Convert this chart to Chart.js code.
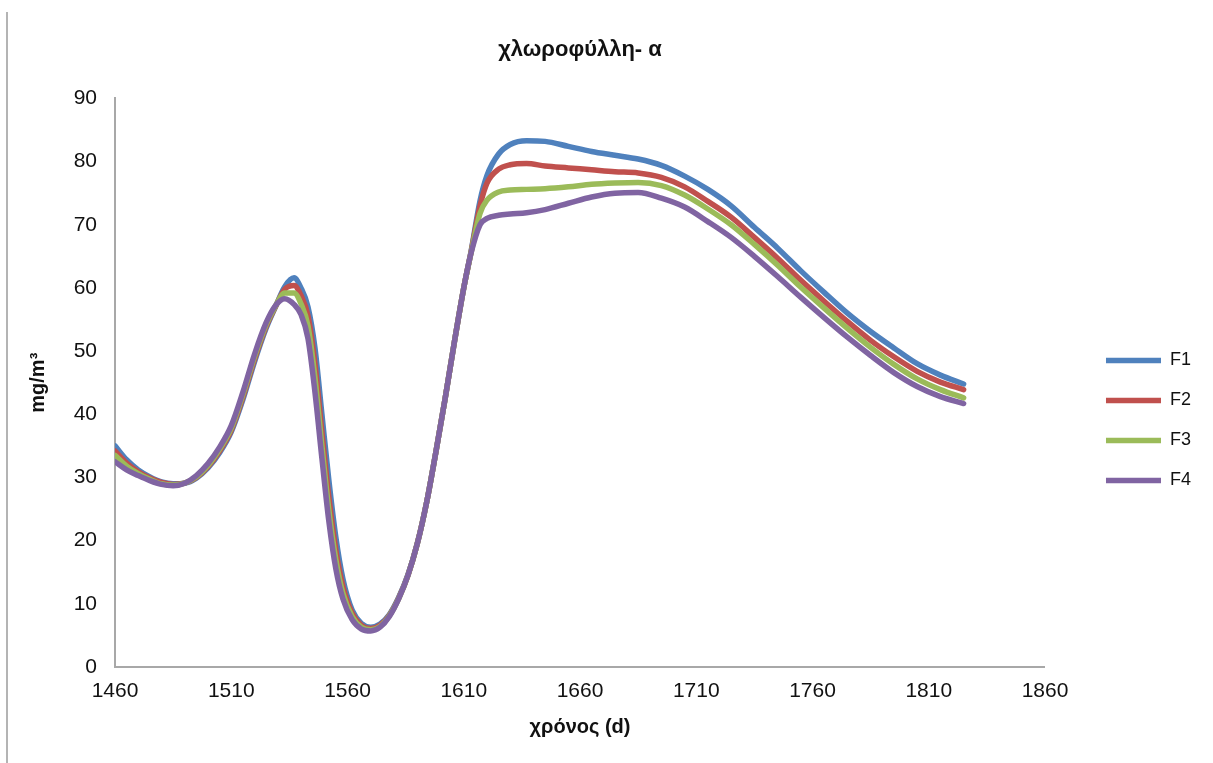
<!DOCTYPE html>
<html>
<head>
<meta charset="utf-8">
<script src="https://cdn.jsdelivr.net/npm/chart.js@4.4.1/dist/chart.umd.min.js"></script>
<style>
    html, body { margin: 0; padding: 0; background: #fff; }
    #wrap { position: relative; width: 1213px; height: 763px; }
    #frame { position: absolute; left: 6px; top: 12px; height: 751px; border-left: 2px solid #b4b4b4; }
</style>
</head>
<body>
<div id="wrap">
    <div id="frame"></div>
    <canvas id="chlChart"></canvas>
</div>
<script>
// days
const days = [1460, 1465, 1470, 1475, 1480, 1485, 1490, 1495, 1500, 1505, 1510, 1515, 1520, 1525, 1529,
    1533, 1537, 1540, 1543, 1546, 1549, 1552, 1555, 1558, 1562, 1566, 1570, 1574, 1578, 1582, 1586,
    1590, 1594, 1598, 1602, 1606, 1610, 1613, 1617, 1620, 1625, 1630, 1637, 1645, 1655, 1665, 1675,
    1685, 1695, 1705, 1715, 1725, 1735, 1745, 1755, 1765, 1775, 1785, 1795, 1805, 1815, 1825];

const f1 = [35.0, 32.8, 31.2, 30.1, 29.3, 29.0, 29.1, 29.9, 31.5, 33.9, 37.2, 42.3, 48.3, 53.6, 57.0,
    60.2, 61.6, 60.0, 57.0, 50.5, 40.0, 29.5, 20.5, 14.0, 9.0, 6.9, 6.3, 6.8, 8.3, 11.0, 14.6,
    19.5, 26.0, 34.0, 42.5, 51.5, 60.0, 65.5, 73.8, 77.8, 81.2, 82.7, 83.3, 83.2, 82.4, 81.6, 81.0,
    80.4, 79.4, 77.7, 75.6, 73.0, 69.6, 66.3, 62.7, 59.3, 56.0, 53.1, 50.5, 48.0, 46.2, 44.8];

const f2 = [34.2, 32.3, 30.9, 29.9, 29.2, 28.9, 29.1, 30.0, 31.7, 34.2, 37.5, 42.7, 48.7, 53.9, 57.0,
    59.8, 60.4, 58.8, 55.6, 48.0, 37.2, 26.8, 18.5, 12.8, 8.5, 6.6, 6.1, 6.6, 8.2, 10.9, 14.5,
    19.5, 26.0, 34.0, 42.5, 51.5, 60.0, 65.4, 73.0, 76.6, 78.8, 79.5, 79.7, 79.3, 79.0, 78.7, 78.4,
    78.2, 77.5, 76.0, 73.7, 71.2, 68.0, 64.7, 61.2, 57.9, 54.7, 51.7, 49.1, 46.8, 45.1, 43.9];

const f3 = [33.5, 31.8, 30.6, 29.7, 29.0, 28.8, 29.1, 30.1, 31.9, 34.5, 37.8, 43.1, 49.1, 54.2, 57.1,
    59.2, 59.2, 57.5, 54.0, 45.8, 35.0, 24.8, 17.0, 11.7, 8.0, 6.3, 5.9, 6.4, 8.1, 10.8, 14.5,
    19.5, 26.0, 34.0, 42.5, 51.5, 60.0, 65.3, 71.8, 73.9, 75.2, 75.5, 75.6, 75.7, 76.0, 76.4, 76.6,
    76.7, 76.2, 74.7, 72.5, 70.0, 66.9, 63.6, 60.1, 56.8, 53.6, 50.6, 47.9, 45.6, 43.9, 42.6];

const f4 = [32.5, 31.2, 30.3, 29.5, 28.9, 28.7, 29.1, 30.3, 32.2, 34.8, 38.2, 43.5, 49.5, 54.5, 57.2,
    58.3, 57.4, 55.8, 52.0, 43.5, 33.0, 23.0, 15.5, 10.8, 7.5, 6.0, 5.7, 6.3, 8.0, 10.8, 14.5,
    19.5, 26.0, 34.0, 42.5, 51.5, 60.0, 65.3, 70.0, 71.0, 71.5, 71.7, 71.9, 72.4, 73.4, 74.4, 75.0,
    75.1, 74.2, 72.8, 70.5, 68.0, 65.0, 61.8, 58.5, 55.3, 52.2, 49.3, 46.6, 44.4, 42.8, 41.7];

const seriesNames = ['F1', 'F2', 'F3', 'F4'];
const seriesColors = ['#4f81bd', '#c0504d', '#9bbb59', '#8064a2'];
const seriesValues = [f1, f2, f3, f4];

const FONT = "'Liberation Sans', Arial, sans-serif";

const datasets = seriesValues.map((vals, i) => ({
    label: seriesNames[i],
    data: days.map((d, j) => ({ x: d, y: vals[j] })),
    borderColor: seriesColors[i],
    backgroundColor: seriesColors[i],
    borderWidth: 5.5,
    borderCapStyle: 'round',
    borderJoinStyle: 'round',
    pointRadius: 0,
    cubicInterpolationMode: 'monotone',
    fill: false,
    order: 4 - i  // last series drawn on top, like Excel
}));

const ctx = document.getElementById('chlChart').getContext('2d');
const chart = new Chart(ctx, {
    type: 'line',
    data: { datasets: datasets },
    options: {
        responsive: true,
        maintainAspectRatio: false,
        animation: false,
        layout: { padding: { top: 0, left: 0, bottom: 0, right: 12 } },
        plugins: {
            title: {
                display: true,
                fullSize: false,
                text: 'χλωροφύλλη- α',
                color: '#111',
                font: { family: FONT, size: 22, weight: 'bold' },
                padding: { top: 37, bottom: 35 }
            },
            legend: {
                display: true,
                position: 'right',
                align: 'center',
                title: {
                    display: true,
                    text: '',
                    font: { size: 10 },
                    padding: { top: 66, bottom: 0 }
                },
                labels: {
                    usePointStyle: true,
                    pointStyle: 'line',
                    pointStyleWidth: 55,
                    padding: 22,
                    color: '#111',
                    font: { family: FONT, size: 18 },
                    sort: (a, b) => a.datasetIndex - b.datasetIndex
                }
            },
            tooltip: { enabled: false }
        },
        scales: {
            x: {
                type: 'linear',
                min: 1460,
                max: 1860,
                grid: { display: false, drawTicks: false },
                border: { display: true, color: '#a8a8a8', width: 2 },
                ticks: {
                    stepSize: 50,
                    padding: 12,
                    color: '#111',
                    font: { family: FONT, size: 21 },
                    maxRotation: 0,
                    callback: (value) => String(value)
                },
                title: {
                    display: true,
                    text: 'χρόνος (d)',
                    color: '#111',
                    font: { family: FONT, size: 20, weight: 'bold' },
                    padding: { top: 4, bottom: 24 }
                },
                afterFit: (scale) => { scale.height = 96; }
            },
            y: {
                min: 0,
                max: 90,
                grid: { display: false, drawTicks: false },
                border: { display: true, color: '#a8a8a8', width: 2 },
                ticks: {
                    stepSize: 10,
                    padding: 18,
                    color: '#111',
                    font: { family: FONT, size: 21 }
                },
                title: {
                    display: true,
                    text: 'mg/m³',
                    color: '#111',
                    font: { family: FONT, size: 20, weight: 'bold' },
                    padding: { top: 26, bottom: 0 }
                },
                afterFit: (scale) => { scale.width = 115; }
            },
            // empty axis that keeps the gap between the plot and the legend
            gap: {
                type: 'linear',
                position: 'right',
                display: true,
                grid: { display: false, drawTicks: false },
                border: { display: false },
                ticks: { display: false },
                afterFit: (scale) => { scale.width = 39; }
            }
        }
    }
});
</script>
</body>
</html>
